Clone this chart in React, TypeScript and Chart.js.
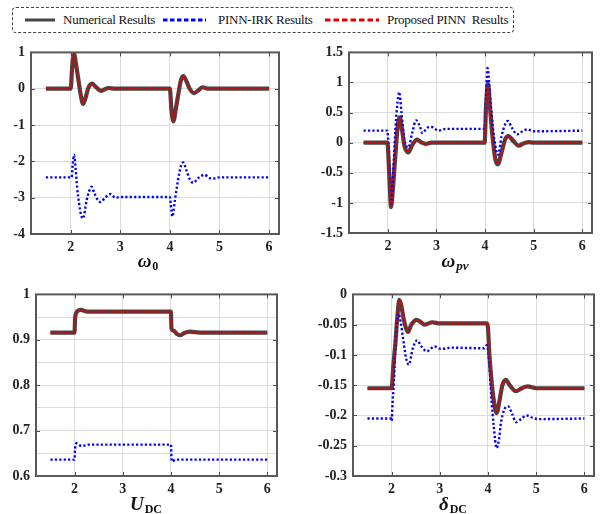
import React, { useEffect, useRef } from "react";
import { Chart, registerables } from "chart.js";

Chart.register(...registerables);

const FONT = '"Liberation Serif", "Times New Roman", serif';

// ---------- shared x axis ----------
const xTicks = [2, 3, 4, 5, 6];
const xLabels = ["2", "3", "4", "5", "6"];

// ---------- legend ----------
const seriesNames = ["Numerical Results", "PINN-IRK Results", "Proposed PINN  Results"];

// ---------- ω0 ----------
const w0NumT = [1.5, 2.0, 2.03, 2.07, 2.11, 2.15, 2.2, 2.25, 2.3, 2.35, 2.43, 2.5, 2.61, 2.68, 2.76, 2.9, 4.0, 4.03, 4.07, 4.12, 4.17, 4.22, 4.27, 4.33, 4.4, 4.49, 4.57, 4.66, 4.78, 6.0];
const w0Num = [0, 0, 0.6, 0.95, 0.65, 0.3, -0.15, -0.42, -0.25, 0.0, 0.14, 0.06, -0.06, -0.02, 0.02, 0, 0, -0.55, -0.9, -0.55, -0.15, 0.22, 0.35, 0.22, 0.0, -0.12, -0.05, 0.04, 0, 0];
const w0Pro = [0, 0, 0.6, 0.94, 0.65, 0.3, -0.15, -0.41, -0.25, 0.0, 0.14, 0.06, -0.06, -0.02, 0.02, 0, 0, -0.55, -0.88, -0.55, -0.15, 0.22, 0.34, 0.22, 0.0, -0.12, -0.05, 0.04, 0, 0];
const w0IrkT = [1.5, 2.02, 2.04, 2.067, 2.1, 2.13, 2.17, 2.21, 2.25, 2.32, 2.37, 2.42, 2.47, 2.53, 2.6, 2.7, 2.8, 2.9, 3.0, 4.0, 4.03, 4.05, 4.1, 4.15, 4.19, 4.23, 4.27, 4.33, 4.4, 4.47, 4.57, 4.7, 4.8, 4.9, 5.0, 6.0];
const w0Irk = [-2.44, -2.44, -2.1, -1.82, -2.2, -2.72, -3.16, -3.48, -3.57, -3.08, -2.83, -2.7, -2.85, -3.03, -3.12, -2.99, -2.9, -3.0, -2.98, -2.98, -3.34, -3.52, -3.08, -2.63, -2.32, -2.1, -2.03, -2.23, -2.49, -2.59, -2.46, -2.37, -2.46, -2.47, -2.44, -2.44];
const w0YTicks = [-4, -3, -2, -1, 0, 1];
const w0YLabels = ["-4", "-3", "-2", "-1", "0", "1"];

// ---------- ωpv ----------
const wpvNumT = [1.5, 1.99, 2.03, 2.065, 2.1, 2.15, 2.2, 2.245, 2.29, 2.34, 2.42, 2.5, 2.6, 2.7, 2.78, 2.9, 3.99, 4.02, 4.06, 4.1, 4.14, 4.21, 4.26, 4.34, 4.41, 4.48, 4.58, 4.69, 4.8, 4.9, 5.0, 6.0];
const wpvNum = [0, 0, -0.55, -1.07, -0.8, -0.25, 0.25, 0.42, 0.22, -0.05, -0.16, -0.04, 0.05, 0.0, -0.02, 0, 0, 0.6, 0.98, 0.6, 0.21, -0.27, -0.36, -0.16, 0.05, 0.11, 0.03, -0.05, -0.01, 0.01, 0, 0];
const wpvPro = [0, 0, -0.55, -1.05, -0.8, -0.25, 0.25, 0.4, 0.22, -0.05, -0.15, -0.04, 0.05, 0.0, -0.02, 0, 0, 0.6, 0.95, 0.6, 0.21, -0.27, -0.35, -0.16, 0.05, 0.11, 0.03, -0.05, -0.01, 0.01, 0, 0];
const wpvIrkT = [1.5, 1.99, 2.03, 2.07, 2.11, 2.15, 2.19, 2.235, 2.28, 2.34, 2.42, 2.5, 2.58, 2.66, 2.71, 2.81, 2.9, 3.04, 3.2, 3.99, 4.02, 4.05, 4.11, 4.18, 4.24, 4.27, 4.34, 4.41, 4.47, 4.55, 4.66, 4.77, 4.87, 5.0, 6.0];
const wpvIrk = [0.2, 0.2, -0.45, -1.02, -0.5, 0.15, 0.6, 0.84, 0.5, 0.05, -0.08, 0.16, 0.37, 0.27, 0.16, 0.25, 0.26, 0.2, 0.23, 0.23, 0.75, 1.24, 0.69, 0.11, -0.16, -0.2, 0.11, 0.3, 0.36, 0.25, 0.14, 0.19, 0.22, 0.19, 0.2];
const wpvYTicks = [-1.5, -1, -0.5, 0, 0.5, 1, 1.5];
const wpvYLabels = ["-1.5", "-1", "-0.5", "0", "0.5", "1", "1.5"];

// ---------- UDC ----------
const udcNumT = [1.5, 2.0, 2.01, 2.04, 2.08, 2.14, 2.22, 2.35, 4.0, 4.01, 4.06, 4.12, 4.19, 4.28, 4.39, 4.6, 6.0];
const udcNum = [0.916, 0.916, 0.945, 0.96, 0.965, 0.966, 0.963, 0.962, 0.962, 0.925, 0.92, 0.913, 0.91, 0.915, 0.918, 0.916, 0.916];
const udcPro = [0.916, 0.916, 0.945, 0.96, 0.965, 0.966, 0.963, 0.962, 0.962, 0.925, 0.92, 0.913, 0.91, 0.915, 0.918, 0.916, 0.916];
const udcIrkT = [1.5, 2.0, 2.01, 2.04, 2.1, 2.15, 2.3, 4.0, 4.01, 4.02, 4.1, 6.0];
const udcIrk = [0.636, 0.636, 0.66, 0.672, 0.668, 0.666, 0.669, 0.669, 0.64, 0.632, 0.636, 0.636];
const udcYTicks = [0.6, 0.65, 0.7, 0.75, 0.8, 0.85, 0.9, 0.95, 1];
const udcYLabels = ["0.6", "", "0.7", "", "0.8", "", "0.9", "", "1"];

// ---------- δDC ----------
const dcNumT = [1.5, 2.0, 2.04, 2.08, 2.12, 2.16, 2.2, 2.25, 2.3, 2.34, 2.41, 2.52, 2.61, 2.69, 2.85, 3.0, 3.98, 4.0, 4.03, 4.08, 4.13, 4.18, 4.24, 4.3, 4.37, 4.45, 4.58, 4.7, 4.82, 5.0, 6.0];
const dcNum = [-0.155, -0.155, -0.115, -0.08, -0.038, -0.009, -0.018, -0.04, -0.056, -0.062, -0.05, -0.042, -0.046, -0.05, -0.046, -0.048, -0.048, -0.055, -0.1, -0.148, -0.18, -0.196, -0.175, -0.15, -0.141, -0.15, -0.16, -0.155, -0.152, -0.155, -0.155];
const dcPro = [-0.155, -0.155, -0.115, -0.08, -0.038, -0.01, -0.018, -0.04, -0.056, -0.062, -0.05, -0.042, -0.046, -0.05, -0.046, -0.048, -0.048, -0.055, -0.1, -0.148, -0.18, -0.195, -0.175, -0.15, -0.141, -0.15, -0.16, -0.155, -0.152, -0.155, -0.155];
const dcIrkT = [1.5, 1.99, 2.0, 2.02, 2.05, 2.07, 2.1, 2.14, 2.19, 2.24, 2.3, 2.36, 2.44, 2.53, 2.62, 2.73, 2.89, 3.02, 3.25, 3.92, 3.98, 4.03, 4.07, 4.12, 4.18, 4.23, 4.27, 4.34, 4.42, 4.5, 4.58, 4.7, 4.8, 4.93, 5.05, 6.0];
const dcIrk = [-0.205, -0.205, -0.209, -0.18, -0.142, -0.1, -0.057, -0.031, -0.046, -0.073, -0.105, -0.116, -0.089, -0.076, -0.086, -0.094, -0.086, -0.09, -0.088, -0.089, -0.084, -0.116, -0.17, -0.218, -0.254, -0.239, -0.212, -0.19, -0.185, -0.197, -0.211, -0.205, -0.2, -0.204, -0.206, -0.205];
const dcYTicks = [-0.3, -0.25, -0.2, -0.15, -0.1, -0.05, 0];
const dcYLabels = ["-0.3", "-0.25", "-0.2", "-0.15", "-0.1", "-0.05", "0"];

// ---------- styles ----------
const STYLE_NUM = { color: "#454545", width: 4.2, dash: [] as number[], order: 3 };
const STYLE_IRK = { color: "#0000ff", width: 2.4, dash: [2.2, 2.2], order: 2 };
const STYLE_PRO = { color: "#e00000", width: 2.2, dash: [2.5, 2], order: 1 };

type Series = { label: string; t: number[]; y: number[]; style: typeof STYLE_NUM };

const framePlugin = {
  id: "frame",
  afterDraw(chart: any, _args: any, o: any) {
    const { ctx, chartArea: a, scales } = chart;
    ctx.save();
    ctx.strokeStyle = "#4a4a4a";
    ctx.lineWidth = 1;
    ctx.beginPath();
    scales.x.ticks.forEach((t: any) => {
      const px = Math.round(scales.x.getPixelForValue(t.value)) + 0.5;
      ctx.moveTo(px, a.bottom);
      ctx.lineTo(px, a.bottom - 4);
      ctx.moveTo(px, a.top);
      ctx.lineTo(px, a.top + 4);
    });
    scales.y.ticks.forEach((t: any, i: number) => {
      if (!o.yLabels[i]) return;
      const py = Math.round(scales.y.getPixelForValue(t.value)) + 0.5;
      ctx.moveTo(a.left, py);
      ctx.lineTo(a.left + 4, py);
      ctx.moveTo(a.right, py);
      ctx.lineTo(a.right - 4, py);
    });
    ctx.stroke();
    ctx.lineWidth = 2;
    ctx.strokeStyle = "#585858";
    ctx.strokeRect(a.left, a.top, a.right - a.left, a.bottom - a.top);

    // axis title with subscript
    const mainFont = `italic bold 19px ${FONT}`;
    const subFont = `${o.subItalic ? "italic " : ""}bold ${o.subItalic ? 13 : 12}px ${FONT}`;
    ctx.font = mainFont;
    const w1 = ctx.measureText(o.main).width;
    ctx.font = subFont;
    const w2 = ctx.measureText(o.sub).width;
    const x0 = o.cx - (w1 + w2 + 1) / 2;
    ctx.fillStyle = "#111";
    ctx.textAlign = "left";
    ctx.textBaseline = "alphabetic";
    ctx.font = mainFont;
    ctx.fillText(o.main, x0, o.by);
    ctx.font = subFont;
    ctx.fillText(o.sub, x0 + w1 + 1, o.by + o.subDy);
    ctx.restore();
  },
};

type PanelProps = {
  left: number; top: number; w: number; h: number;
  padTop: number; padRight: number; yWidth: number; xHeight: number;
  series: Series[];
  yMin: number; yMax: number; yTicks: number[]; yLabels: string[];
  main: string; sub: string; subItalic: boolean; cx: number; by: number; subDy: number;
};

function Panel(p: PanelProps) {
  const ref = useRef<HTMLCanvasElement>(null);
  useEffect(() => {
    const tickFont = { family: FONT, size: 14, weight: "bold" as const };
    const chart = new Chart(ref.current!, {
      type: "line",
      data: {
        datasets: p.series.map((s) => ({
          label: s.label,
          data: s.t.map((x, i) => ({ x, y: s.y[i] })),
          borderColor: s.style.color,
          borderWidth: s.style.width,
          borderDash: s.style.dash,
          borderCapStyle: "butt" as const,
          borderJoinStyle: "round" as const,
          pointRadius: 0,
          fill: false,
          cubicInterpolationMode: "monotone" as const,
          order: s.style.order,
        })),
      },
      options: {
        responsive: false,
        animation: false,
        devicePixelRatio: 1,
        layout: { padding: { left: 0, right: p.padRight, top: p.padTop, bottom: 0 } },
        plugins: {
          legend: { display: false },
          tooltip: { enabled: false },
          // @ts-ignore
          frame: { main: p.main, sub: p.sub, subItalic: p.subItalic, cx: p.cx, by: p.by, subDy: p.subDy, yLabels: p.yLabels },
        },
        scales: {
          x: {
            type: "linear",
            min: 1.2,
            max: 6.2,
            afterBuildTicks: (s: any) => { s.ticks = xTicks.map((v) => ({ value: v })); },
            afterFit: (s: any) => { s.height = p.xHeight; },
            grid: { color: "#dcdcdc", lineWidth: 1, drawTicks: false },
            border: { display: false },
            ticks: { padding: 5, autoSkip: false, maxRotation: 0, font: tickFont, color: "#222", callback: (_v: any, i: number) => xLabels[i] },
          },
          y: {
            type: "linear",
            min: p.yMin,
            max: p.yMax,
            afterBuildTicks: (s: any) => { s.ticks = p.yTicks.map((v) => ({ value: v })); },
            afterFit: (s: any) => { s.width = p.yWidth; },
            grid: { color: "#dcdcdc", lineWidth: 1, drawTicks: false },
            border: { display: false },
            ticks: { padding: 6, autoSkip: false, font: tickFont, color: "#222", callback: (_v: any, i: number) => p.yLabels[i] },
          },
        },
      },
      plugins: [framePlugin],
    });
    return () => chart.destroy();
  }, []);
  return (
    <canvas
      ref={ref}
      width={p.w}
      height={p.h}
      style={{ position: "absolute", left: p.left, top: p.top, width: p.w, height: p.h }}
    />
  );
}

function LegendLine({ x1, x2, color, width, dash }: { x1: number; x2: number; color: string; width: number; dash?: string }) {
  return (
    <svg style={{ position: "absolute", left: x1, top: 16, width: x2 - x1, height: 8 }} width={x2 - x1} height={8}>
      <line x1={0} y1={4} x2={x2 - x1} y2={4} stroke={color} strokeWidth={width} strokeDasharray={dash} />
    </svg>
  );
}

export default function App() {
  const text = (x: number, s: string) => (
    <div style={{ position: "absolute", left: x, top: 10, height: 20, lineHeight: "20px", fontFamily: FONT, fontSize: 13, letterSpacing: "-0.25px", color: "#111", whiteSpace: "pre" }}>{s}</div>
  );
  return (
    <div style={{ position: "fixed", left: 0, top: 0, width: 602, height: 514, background: "#fff", overflow: "hidden" }}>
      <div style={{ position: "absolute", left: 12, top: 7, width: 502, height: 26, border: "1px dashed #444", borderRadius: 4, boxSizing: "border-box" }} />
      <LegendLine x1={25} x2={55} color="#454545" width={3} />
      {text(63, seriesNames[0])}
      <LegendLine x1={163} x2={206} color="#0000ff" width={3} dash="4.5 2.5" />
      {text(218, seriesNames[1])}
      <LegendLine x1={325} x2={379} color="#e00000" width={3} dash="5.5 3" />
      {text(387, seriesNames[2])}

      <Panel left={0} top={38} w={300} h={242} padTop={8} padRight={21} yWidth={31} xHeight={46}
        series={[
          { label: seriesNames[0], t: w0NumT, y: w0Num, style: STYLE_NUM },
          { label: seriesNames[1], t: w0IrkT, y: w0Irk, style: STYLE_IRK },
          { label: seriesNames[2], t: w0NumT, y: w0Pro, style: STYLE_PRO },
        ]}
        yMin={-4} yMax={1} yTicks={w0YTicks} yLabels={w0YLabels}
        main="ω" sub="0" subItalic={false} cx={148} by={229} subDy={3} />

      <Panel left={300} top={38} w={302} h={242} padTop={8} padRight={10} yWidth={49} xHeight={47}
        series={[
          { label: seriesNames[0], t: wpvNumT, y: wpvNum, style: STYLE_NUM },
          { label: seriesNames[1], t: wpvIrkT, y: wpvIrk, style: STYLE_IRK },
          { label: seriesNames[2], t: wpvNumT, y: wpvPro, style: STYLE_PRO },
        ]}
        yMin={-1.5} yMax={1.5} yTicks={wpvYTicks} yLabels={wpvYLabels}
        main="ω" sub="pv" subItalic={true} cx={155} by={229} subDy={3} />

      <Panel left={0} top={280} w={300} h={234} padTop={10} padRight={23} yWidth={36} xHeight={38}
        series={[
          { label: seriesNames[0], t: udcNumT, y: udcNum, style: STYLE_NUM },
          { label: seriesNames[1], t: udcIrkT, y: udcIrk, style: STYLE_IRK },
          { label: seriesNames[2], t: udcNumT, y: udcPro, style: STYLE_PRO },
        ]}
        yMin={0.6} yMax={1} yTicks={udcYTicks} yLabels={udcYLabels}
        main="U" sub="DC" subItalic={false} cx={146} by={230} subDy={2.5} />

      <Panel left={300} top={280} w={302} h={234} padTop={10} padRight={8} yWidth={53} xHeight={38}
        series={[
          { label: seriesNames[0], t: dcNumT, y: dcNum, style: STYLE_NUM },
          { label: seriesNames[1], t: dcIrkT, y: dcIrk, style: STYLE_IRK },
          { label: seriesNames[2], t: dcNumT, y: dcPro, style: STYLE_PRO },
        ]}
        yMin={-0.3} yMax={0} yTicks={dcYTicks} yLabels={dcYLabels}
        main="δ" sub="DC" subItalic={false} cx={153} by={230} subDy={2.5} />
    </div>
  );
}
